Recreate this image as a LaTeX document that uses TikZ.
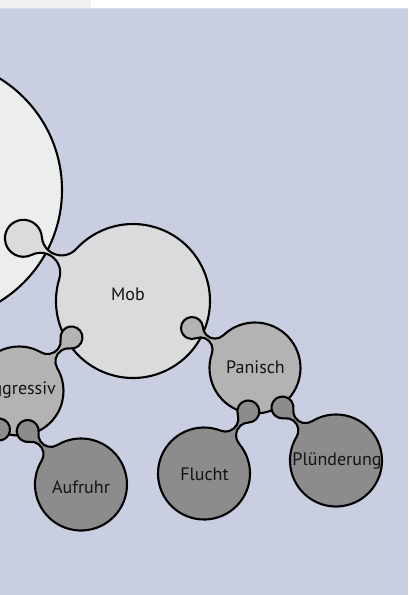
\documentclass[tikz,border=0pt]{standalone}
\usepackage{fontspec}
\setmainfont{PT Sans}
\usetikzlibrary{calc}

\definecolor{bgcol}{HTML}{C9CEE1}
\definecolor{stripcol}{HTML}{F1F0EE}
\definecolor{rulecol}{HTML}{D6DAE8}
\definecolor{rootcol}{HTML}{ECEEED}
\definecolor{levelone}{HTML}{DADBDC}
\definecolor{leveltwo}{HTML}{B3B3B3}
\definecolor{levelthree}{HTML}{8C8C8C}
\definecolor{inkcol}{HTML}{141414}

\tikzset{
  outline/.style={draw=black, line width=2.1pt, line join=round},
  lbl/.style={font=\fontsize{18}{20}\selectfont, text=inkcol, inner sep=0pt, anchor=base}
}

% A circle joined by a pinched neck to a small bulb.
% #1,#2 bulb centre, #3 bulb radius, #4,#5 circle centre, #6 circle radius,
% #7 half width of the neck at its waist, #8 fill colour.
% The neck edges are fillet arcs tangent to both circles.
\newcommand\blobshape[8]{%
  \pgfmathsetmacro\bdx{(#4-#1)/10}%
  \pgfmathsetmacro\bdy{(#5-#2)/10}%
  \pgfmathsetmacro\bD{sqrt(\bdx*\bdx+\bdy*\bdy)}%
  \pgfmathsetmacro\bphi{atan2(\bdy,\bdx)}%
  \pgfmathsetmacro\brb{#3/10}%
  \pgfmathsetmacro\bR{#6/10}%
  \pgfmathsetmacro\bh{#7/10}%
  \pgfmathsetmacro\bAz{(\bD*\bD-\bR*\bR+\brb*\brb)/(2*\bD)}%
  \pgfmathsetmacro\bAo{(\bR-\brb)/\bD}%
  \pgfmathsetmacro\bqa{\bAo*\bAo}%
  \pgfmathsetmacro\bqb{-2*\bAz*\bAo+2*\bh-2*\brb}%
  \pgfmathsetmacro\bqc{\bAz*\bAz+\bh*\bh-\brb*\brb}%
  \pgfmathsetmacro\brf{2*\bqc/(-\bqb+sqrt(\bqb*\bqb-4*\bqa*\bqc))}%
  \pgfmathsetmacro\bfa{\bAz-\bAo*\brf}%
  \pgfmathsetmacro\bfn{\brf+\bh}%
  \pgfmathsetmacro\bal{atan2(\bfn,\bfa)}%
  \pgfmathsetmacro\bbe{atan2(\bfn,\bD-\bfa)}%
  \pgfmathsetmacro\sA{\bphi+\bal}%
  \pgfmathsetmacro\fSa{\bphi+180+\bal}%
  \pgfmathsetmacro\fEa{\bphi+360-\bbe}%
  \pgfmathsetmacro\cS{\bphi+180-\bbe}%
  \pgfmathsetmacro\cE{\bphi-180+\bbe}%
  \pgfmathsetmacro\fSb{\bphi+\bbe}%
  \pgfmathsetmacro\fEb{\bphi+180-\bal}%
  \pgfmathsetmacro\kS{\bphi-\bal}%
  \pgfmathsetmacro\kE{\bphi+\bal-360}%
  \pgfmathsetmacro\rrf{10*\brf}%
  \path[outline, fill=#8] ($(#1,#2)+(\sA:#3)$)
    arc[start angle=\fSa, end angle=\fEa, radius=\rrf]
    arc[start angle=\cS, end angle=\cE, radius=#6]
    arc[start angle=\fSb, end angle=\fEb, radius=\rrf]
    arc[start angle=\kS, end angle=\kE, radius=#3] -- cycle;
}

\begin{document}
\begin{tikzpicture}[x=1pt, y=-1pt]
  \useasboundingbox (0,0) rectangle (408,595);
  % top strip and backdrop
  \fill[white] (0,0) rectangle (408,8);
  \fill[stripcol] (0,0) rectangle (91,8);
  \fill[bgcol] (0,8) rectangle (408,595);
  \draw[rulecol, line width=1pt] (0,8.5) -- (408,8.5);

  \begin{scope}
    \clip (0,8) rectangle (408,595);
    % root circle
    \path[outline, fill=rootcol] (-69,190) circle[radius=131];
    % first level
    \blobshape{23.4}{238.3}{18.5}{133}{301}{77}{1.5}{levelone}
    % second level
    \blobshape{71.5}{337.5}{11}{19}{391}{44.5}{1.5}{leveltwo}
    \blobshape{192}{328}{11}{255}{368}{45.5}{1.5}{leveltwo}
    % third level
    \blobshape{-1}{429.5}{11}{-55}{484}{46}{1.5}{levelthree}
    \blobshape{27.7}{431}{11}{81}{484.5}{46}{1.5}{levelthree}
    \blobshape{248.3}{411.5}{11}{204}{473.5}{46}{1.5}{levelthree}
    \blobshape{282.5}{407.5}{11}{336}{460.5}{46}{1.5}{levelthree}
  \end{scope}

  % labels
  \node[lbl] (mob) at (128,300) {Mob};
  \node[lbl, anchor=base east] (aggressiv) at (56,394) {Aggressiv};
  \node[lbl] (panisch) at (255.5,373) {Panisch};
  \node[lbl] (aufruhr) at (81,493) {Aufruhr};
  \node[lbl] (flucht) at (204.5,480) {Flucht};
  \node[lbl] (pluenderung) at (337,465) {Plünderung};
\end{tikzpicture}
\end{document}
